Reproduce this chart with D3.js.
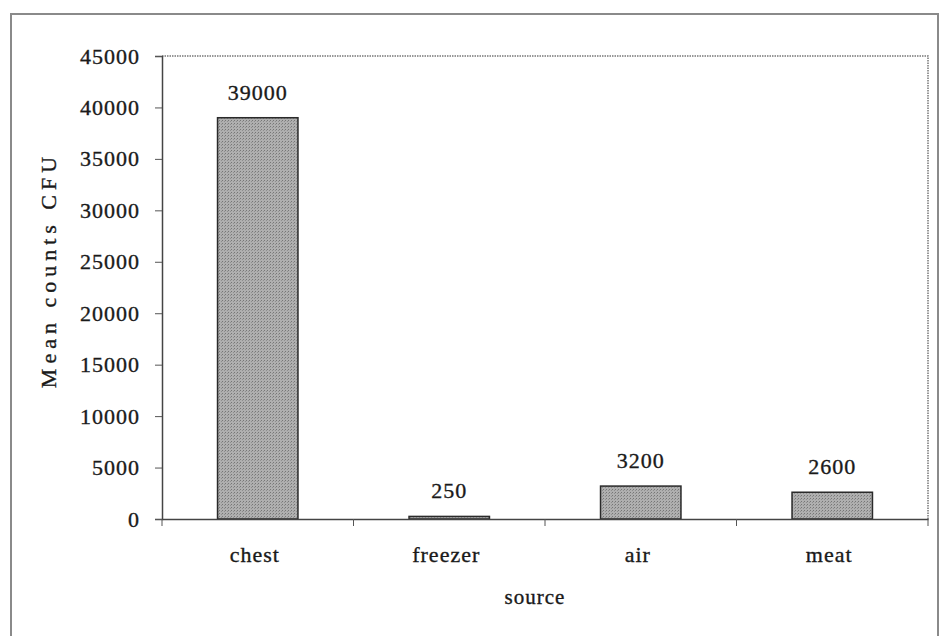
<!DOCTYPE html>
<html><head><meta charset="utf-8">
<script src="https://cdn.jsdelivr.net/npm/d3@7"></script>
<style>
body{margin:0;background:#fff;}
text{font-family:"Liberation Serif","Times New Roman",serif;fill:#1a1a1a;stroke:#1a1a1a;stroke-width:0.35px;}
</style></head>
<body><svg id="c" width="941" height="636"></svg>
<script>
const categories = ["chest","freezer","air","meat"];
const values = [39000, 250, 3200, 2600];
const valueLabels = ["39000","250","3200","2600"];
const yTicks = [0,5000,10000,15000,20000,25000,30000,35000,40000,45000];
const xTitle = "source";
const yTitle = "Mean counts CFU";

const svg = d3.select("#c");
const L=162, R=928, T=56, B=519;

// outer frame
svg.append("rect").attr("x",11).attr("y",14).attr("width",927).attr("height",640)
  .attr("fill","none").attr("stroke","#8a8a8a").attr("stroke-width",2);

const defs = svg.append("defs");
const pat = defs.append("pattern").attr("id","stip").attr("width",3).attr("height",3).attr("patternUnits","userSpaceOnUse");
pat.append("rect").attr("width",3).attr("height",3).attr("fill","#afafaf");
pat.append("rect").attr("width",1).attr("height",1).attr("fill","#767676");
pat.append("rect").attr("x",2).attr("y",1).attr("width",1).attr("height",1).attr("fill","#8e8e8e");

const x = d3.scaleBand().domain(categories).range([L,R]).paddingInner(0.58).paddingOuter(0.29);
const y = d3.scaleLinear().domain([0,45000]).range([B,T]);

// plot area border (top & right dotted)
svg.append("path").attr("d",`M${L},${T}H${R}V${B}`).attr("fill","none")
  .attr("stroke","#777").attr("stroke-width",1.5).attr("stroke-dasharray","1.5,1");

// bars
svg.selectAll("rect.bar").data(categories).enter().append("rect").attr("class","bar")
  .attr("x",d=>x(d)).attr("width",x.bandwidth())
  .attr("y",(d,i)=>y(values[i])).attr("height",(d,i)=>B-y(values[i]))
  .attr("fill","url(#stip)").attr("stroke","#2a2a2a").attr("stroke-width",1.5);

// value labels
svg.selectAll("text.val").data(categories).enter().append("text").attr("class","val")
  .attr("x",d=>x(d)+x.bandwidth()/2).attr("y",(d,i)=>y(values[i])-18)
  .attr("text-anchor","middle").style("font-size","22px").style("letter-spacing","1px")
  .text((d,i)=>valueLabels[i]);

// y axis
const ya = svg.append("g").attr("transform",`translate(${L},0)`)
  .call(d3.axisLeft(y).tickValues(yTicks).tickFormat(d3.format("d")).tickSize(7).tickPadding(15));
ya.select(".domain").attr("stroke","#444").attr("stroke-width",1.5);
ya.selectAll(".tick line").attr("stroke","#555");
ya.selectAll(".tick text").style("font-size","22px").style("letter-spacing","1px").attr("fill","#1a1a1a")
  .style("font-family","Liberation Serif, serif");

// x axis
const xa = svg.append("g").attr("transform",`translate(0,${B})`)
  .call(d3.axisBottom(x).tickSize(0).tickPadding(0).tickFormat(()=>""));
xa.select(".domain").attr("stroke","#444").attr("stroke-width",1.5);
const bounds = d3.range(categories.length+1).map(i=>L+i*(R-L)/categories.length);
svg.selectAll("line.xt").data(bounds).enter().append("line")
  .attr("x1",d=>d).attr("x2",d=>d).attr("y1",B).attr("y2",B+7).attr("stroke","#555");
svg.selectAll("text.xl").data(categories).enter().append("text")
  .attr("x",d=>x(d)+x.bandwidth()/2-3).attr("y",562).attr("text-anchor","middle")
  .style("font-size","22px").style("letter-spacing","1px").text(d=>d);

// titles
svg.append("text").attr("x",535).attr("y",604).attr("text-anchor","middle")
  .style("font-size","21px").style("letter-spacing","1px").text(xTitle);
svg.append("text").attr("transform","translate(56,270) rotate(-90)").attr("text-anchor","middle")
  .style("font-size","22px").style("letter-spacing","5px").text(yTitle);
</script></body></html>
